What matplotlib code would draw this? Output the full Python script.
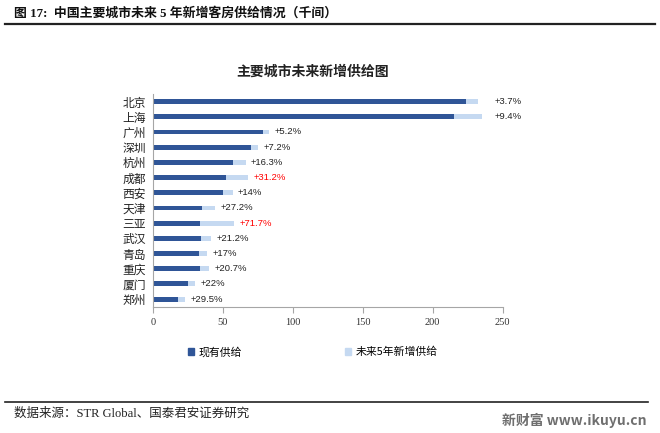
import matplotlib

matplotlib.use("Agg")

from matplotlib import pyplot as plt  # noqa: E402
from matplotlib.patches import Patch  # noqa: E402

plt.rcParams["font.family"] = ["Noto Sans CJK SC", "DejaVu Sans"]

CITIES = ["北京", "上海", "广州", "深圳", "杭州", "成都", "西安",
          "天津", "三亚", "武汉", "青岛", "重庆", "厦门", "郑州"]
EXISTING = [224, 215, 79, 70, 57, 52, 50, 35, 34, 34.5, 33, 33.5, 25, 18]
GROWTH_PCT = [3.7, 9.4, 5.2, 7.2, 16.3, 31.2, 14, 27.2, 71.7, 21.2, 17, 20.7, 22, 29.5]
GROWTH_LABELS = ["+3.7%", "+9.4%", "+5.2%", "+7.2%", "+16.3%", "+31.2%", "+14%",
                 "+27.2%", "+71.7%", "+21.2%", "+17%", "+20.7%", "+22%", "+29.5%"]
HIGHLIGHT = {"成都", "三亚"}
X_TICKS = [0, 50, 100, 150, 200, 250]

DARK = "#2f5597"
LIGHT = "#c5d9f1"
SERIF = ["Liberation Serif", "Noto Sans CJK SC"]

new_supply = [e * p / 100 for e, p in zip(EXISTING, GROWTH_PCT)]
positions = list(range(len(CITIES)))

fig = plt.figure(figsize=(6.6, 4.33), dpi=100)
ax = fig.add_axes([0.2314, 0.2917, 0.5303, 0.4912])

ax.barh(positions, EXISTING, height=0.32, color=DARK, label="现有供给")
ax.barh(positions, new_supply, left=EXISTING, height=0.32, color=LIGHT,
        label="未来5年新增供给")

for i, city in enumerate(CITIES):
    total = EXISTING[i] + new_supply[i]
    color = "#ff0000" if city in HIGHLIGHT else "#222222"
    if i < 2:
        x, dx = 244, 0
    else:
        x, dx = total, 4
    ax.annotate(GROWTH_LABELS[i], (x, i), xytext=(dx, 0), textcoords="offset points",
                va="center", ha="left", fontsize=6.8, color=color,
                family=["Liberation Sans", "DejaVu Sans"])

ax.set_xlim(0, 250)
ax.set_ylim(len(CITIES) - 0.5, -0.5)
ax.set_xticks(X_TICKS)
ax.set_xticklabels([str(t) for t in X_TICKS], family=SERIF, fontsize=7.5, color="#333333")
ax.set_yticks(positions)
ax.set_yticklabels(CITIES, fontsize=8.5, color="#222222")
ax.tick_params(axis="x", direction="out", length=4, color="#a6a6a6", pad=4)
ax.tick_params(axis="y", length=0, pad=5)
for side in ("top", "right"):
    ax.spines[side].set_visible(False)
for side in ("left", "bottom"):
    ax.spines[side].set_color("#a6a6a6")
    ax.spines[side].set_linewidth(0.8)

handles = [Patch(color=DARK, label="现有供给"), Patch(color=LIGHT, label="未来5年新增供给")]
fig.legend(handles=handles, loc="center", bbox_to_anchor=(0.474, 0.187), ncol=2,
           frameon=False, fontsize=7.8, handlelength=0.6, handleheight=0.6,
           handletextpad=0.4, columnspacing=9.5)

fig.text(313 / 660, 1 - 72 / 433, "主要城市未来新增供给图", ha="center", va="center",
         fontsize=10, fontweight="bold", color="#222222")

fig.text(14 / 660, 1 - 13 / 433, "图 17:  中国主要城市未来 5 年新增客房供给情况（千间）",
         ha="left", va="center", fontsize=9.3, fontweight="bold", color="#111111",
         family=SERIF)
fig.add_artist(plt.Line2D([5 / 660, 655 / 660], [1 - 24 / 433, 1 - 24 / 433],
                          color="#222222", linewidth=1.6))

fig.add_artist(plt.Line2D([5 / 660, 648 / 660], [1 - 402 / 433, 1 - 402 / 433],
                          color="#222222", linewidth=1.2))
fig.text(14 / 660, 1 - 414 / 433, "数据来源：STR Global、国泰君安证券研究",
         ha="left", va="center", fontsize=9, color="#222222", family=SERIF)
fig.text(647 / 660, 1 - 420 / 433, "新财富 www.ikuyu.cn", ha="right", va="center",
         fontsize=10, fontweight="bold", color="#6f6f6f",
         family=["Noto Sans CJK SC", "DejaVu Sans"])

fig.savefig("out.png", dpi=100)
